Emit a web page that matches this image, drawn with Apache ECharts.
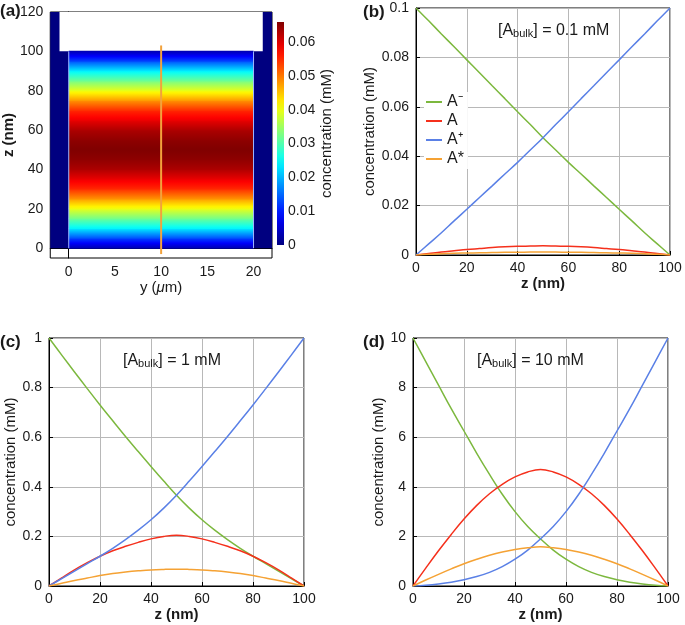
<!DOCTYPE html>
<html>
<head>
<meta charset="UTF-8">
<title>Concentration profiles</title>
<script src="https://cdn.jsdelivr.net/npm/echarts@6/dist/echarts.min.js"></script>
<style>body{margin:0;background:#fff;}</style>
</head>
<body>
<div id="main" style="width:685px;height:625px;"></div>
<script>
// z positions (nm) for the profiles
var zPos = [0, 5, 10, 15, 20, 25, 30, 35, 40, 45, 50, 55, 60, 65, 70, 75, 80, 85, 90, 95, 100];

// (b) [A_bulk] = 0.1 mM
var b_Aminus = [0.1, 0.0948, 0.0895, 0.0843, 0.079, 0.0738, 0.0685, 0.0633, 0.058, 0.0528, 0.0475,
                0.0425, 0.0375, 0.0328, 0.028, 0.0233, 0.0185, 0.0138, 0.009, 0.0045, 0];
var b_A      = [0, 0.0006, 0.0012, 0.0017, 0.0022, 0.0026, 0.003, 0.0033, 0.0035, 0.0036, 0.0037,
                0.0036, 0.0035, 0.0033, 0.003, 0.0026, 0.0022, 0.0017, 0.0012, 0.0006, 0];
var b_Aplus  = [0, 0.0045, 0.009, 0.0138, 0.0185, 0.0233, 0.028, 0.0328, 0.0375, 0.0425, 0.0475,
                0.0528, 0.058, 0.0633, 0.0685, 0.0738, 0.079, 0.0843, 0.0895, 0.0948, 0.1];
var b_Astar  = [0, 0.0003, 0.0005, 0.0007, 0.0008, 0.0009, 0.001, 0.0011, 0.0011, 0.0012, 0.0012,
                0.0012, 0.0011, 0.0011, 0.001, 0.0009, 0.0008, 0.0007, 0.0005, 0.0003, 0];

// (c) [A_bulk] = 1 mM
var c_Aminus = [1, 0.931, 0.863, 0.796, 0.73, 0.666, 0.603, 0.542, 0.482, 0.423, 0.366,
                0.314, 0.267, 0.225, 0.187, 0.152, 0.12, 0.09, 0.06, 0.03, 0];
var c_A      = [0, 0.033, 0.065, 0.094, 0.12, 0.142, 0.16, 0.176, 0.19, 0.2, 0.205,
                0.2, 0.19, 0.176, 0.16, 0.142, 0.12, 0.094, 0.065, 0.033, 0];
var c_Aplus  = [0, 0.03, 0.06, 0.09, 0.12, 0.152, 0.187, 0.225, 0.267, 0.314, 0.366,
                0.423, 0.482, 0.542, 0.603, 0.666, 0.73, 0.796, 0.863, 0.931, 1];
var c_Astar  = [0, 0.011, 0.022, 0.032, 0.042, 0.05, 0.056, 0.061, 0.065, 0.067, 0.068,
                0.067, 0.065, 0.061, 0.056, 0.05, 0.042, 0.032, 0.022, 0.011, 0];

// (d) [A_bulk] = 10 mM
var d_Aminus = [10, 9.05, 8.1, 7.15, 6.25, 5.35, 4.5, 3.7, 3.0, 2.4, 1.9,
                1.45, 1.08, 0.78, 0.55, 0.38, 0.25, 0.15, 0.08, 0.03, 0];
var d_A      = [0, 0.72, 1.42, 2.08, 2.7, 3.25, 3.72, 4.1, 4.4, 4.6, 4.7,
                4.6, 4.4, 4.1, 3.72, 3.25, 2.7, 2.08, 1.42, 0.72, 0];
var d_Aplus  = [0, 0.03, 0.08, 0.15, 0.25, 0.38, 0.55, 0.78, 1.08, 1.45, 1.9,
                2.4, 3.0, 3.7, 4.5, 5.35, 6.25, 7.15, 8.1, 9.05, 10];
var d_Astar  = [0, 0.24, 0.47, 0.69, 0.9, 1.08, 1.24, 1.37, 1.47, 1.54, 1.58,
                1.54, 1.47, 1.37, 1.24, 1.08, 0.9, 0.69, 0.47, 0.24, 0];

// (a) concentration map across the gap (mM), read along z
var heatZ    = [0, 5, 10, 15, 20, 25, 30, 35, 40, 45, 50, 55, 60, 65, 70, 75, 80, 85, 90, 95, 100];
var heatConc = [0.003, 0.013, 0.024, 0.032, 0.040, 0.048, 0.055, 0.059, 0.063, 0.065, 0.066,
                0.065, 0.063, 0.059, 0.055, 0.048, 0.040, 0.032, 0.024, 0.013, 0.003];
var cbarMax = 0.066;
var cellY = [0, 20];        // um
var cellZ = [0, 100];       // nm
var electrodeY = [-1, 21];
var electrodeZ = [100, 120];
var probeY = 10;
var probeZ = [-3, 103];

var seriesNames = ['A⁻', 'A', 'A⁺', 'A*'];
var colors = ['#7cb83e', '#f5301c', '#5a80e6', '#f5a234'];
var FONT = 'Liberation Sans, Arial, sans-serif';

function clamp(v) { return Math.max(0, Math.min(1, v)); }
function jet(t) {
    t = clamp(t);
    var r = clamp(1.5 - Math.abs(4 * t - 3));
    var g = clamp(1.5 - Math.abs(4 * t - 2));
    var b = clamp(1.5 - Math.abs(4 * t - 1));
    return 'rgb(' + Math.round(r * 255) + ',' + Math.round(g * 255) + ',' + Math.round(b * 255) + ')';
}

function pairs(ys) {
    return zPos.map(function (z, i) { return [z, ys[i]]; });
}

var myChart = echarts.init(document.getElementById('main'));

var grids = [
    {left: 50, top: 12, width: 222, height: 246},     // (a)
    {left: 277, top: 22, width: 7, height: 223},      // colorbar
    {left: 416, top: 8, width: 254, height: 247},     // (b)
    {left: 49, top: 338, width: 255, height: 248},    // (c)
    {left: 413, top: 338, width: 255, height: 248}    // (d)
];
grids.forEach(function (g, i) {
    g.show = i !== 1;
    g.borderColor = '#000';
    g.borderWidth = 1;
    g.backgroundColor = 'transparent';
});

var labelStyle = {color: '#1a1a1a', fontSize: 14, fontFamily: FONT};
function lineX(idx) {
    return {
        gridIndex: idx, type: 'value', min: 0, max: 100, interval: 20,
        axisLine: {lineStyle: {color: '#000'}},
        axisTick: {inside: true, length: 4, lineStyle: {color: '#000'}},
        axisLabel: Object.assign({margin: 6}, labelStyle),
        splitLine: {show: true, lineStyle: {color: '#b8b8b8'}},
        name: 'z (nm)', nameLocation: 'middle', nameGap: 21,
        nameTextStyle: {fontSize: 15, fontWeight: 'bold', fontFamily: FONT, color: '#1a1a1a'}
    };
}
function lineY(idx, max, step, gap) {
    return {
        gridIndex: idx, type: 'value', min: 0, max: max, interval: step,
        axisLine: {lineStyle: {color: '#000'}},
        axisTick: {inside: true, length: 4, lineStyle: {color: '#000'}},
        axisLabel: Object.assign({margin: 7}, labelStyle),
        splitLine: {show: true, lineStyle: {color: '#b8b8b8'}},
        name: 'concentration (mM)', nameLocation: 'middle', nameGap: gap,
        nameTextStyle: {fontSize: 15, fontFamily: FONT, color: '#1a1a1a'}
    };
}

var xAxes = [
    {
        gridIndex: 0, type: 'value', min: -2, max: 22, splitNumber: 5,
        axisLine: {lineStyle: {color: '#000'}},
        axisTick: {inside: true, length: 4, lineStyle: {color: '#000'}},
        axisLabel: Object.assign({margin: 7, showMinLabel: false, showMaxLabel: false}, labelStyle),
        splitLine: {show: false},
        name: '{n|y (}{i|μ}{n|m)}', nameLocation: 'middle', nameGap: 18,
        nameTextStyle: {rich: {
            n: {fontSize: 15, fontFamily: FONT, color: '#1a1a1a'},
            i: {fontSize: 15, fontFamily: FONT, fontStyle: 'italic', color: '#1a1a1a'}
        }}
    },
    {gridIndex: 1, type: 'value', min: 0, max: 1, show: false},
    lineX(2), lineX(3), lineX(4)
];

var yAxes = [
    {
        gridIndex: 0, type: 'value', min: -5, max: 120, splitNumber: 6,
        axisLine: {lineStyle: {color: '#000'}},
        axisTick: {inside: true, length: 4, lineStyle: {color: '#000'}},
        axisLabel: Object.assign({margin: 7, showMinLabel: false}, labelStyle),
        splitLine: {show: false},
        name: 'z (nm)', nameLocation: 'middle', nameGap: 23,
        nameTextStyle: {fontSize: 15, fontWeight: 'bold', fontFamily: FONT, color: '#1a1a1a'}
    },
    {
        gridIndex: 1, type: 'value', min: 0, max: cbarMax, interval: 0.01, position: 'right',
        axisLine: {show: false}, axisTick: {show: false},
        axisLabel: Object.assign({margin: 4, showMaxLabel: false}, labelStyle),
        splitLine: {show: false},
        name: 'concentration (mM)', nameLocation: 'middle', nameGap: 29,
        nameTextStyle: {fontSize: 15, fontFamily: FONT, color: '#1a1a1a'}
    },
    lineY(2, 0.1, 0.02, 34),
    lineY(3, 1, 0.2, 21),
    lineY(4, 10, 2, 23)
];

function rectBetween(api, p0, p1) {
    var a = api.coord(p0), b = api.coord(p1);
    return {x: Math.min(a[0], b[0]), y: Math.min(a[1], b[1]),
            width: Math.abs(b[0] - a[0]), height: Math.abs(b[1] - a[1])};
}

var bands = [];
for (var i = 0; i < heatZ.length - 1; i++) {
    bands.push([heatZ[i], heatZ[i + 1], heatConc[i], heatConc[i + 1]]);
}

var series = [
    // dark background of the map and the electrode
    {
        type: 'custom', xAxisIndex: 0, yAxisIndex: 0, silent: true, clip: true,
        data: [[0]],
        renderItem: function (params, api) {
            var bg = rectBetween(api, [-2, cellZ[0]], [22, electrodeZ[1]]);
            var el = rectBetween(api, [electrodeY[0], electrodeZ[0]], [electrodeY[1], electrodeZ[1]]);
            return {type: 'group', children: [
                {type: 'rect', shape: bg, style: {fill: jet(0)}},
                {type: 'rect', shape: el, style: {fill: '#fff'}}
            ]};
        }
    },
    // concentration bands
    {
        type: 'custom', xAxisIndex: 0, yAxisIndex: 0, silent: true, clip: true,
        data: bands,
        renderItem: function (params, api) {
            var z0 = api.value(0), z1 = api.value(1), c0 = api.value(2), c1 = api.value(3);
            var r = rectBetween(api, [cellY[0], z0], [cellY[1], z1]);
            r.y -= 0.5; r.height += 1;
            var stops = [];
            for (var k = 0; k <= 4; k++) {
                var c = c0 + (c1 - c0) * k / 4;
                stops.push({offset: k / 4, color: jet(c / cbarMax)});
            }
            return {type: 'rect', shape: r,
                    style: {fill: new echarts.graphic.LinearGradient(0, 1, 0, 0, stops)}};
        }
    },
    // cell walls and probe line
    {
        type: 'custom', xAxisIndex: 0, yAxisIndex: 0, silent: true, clip: true,
        data: [[0]],
        renderItem: function (params, api) {
            var l0 = api.coord([cellY[0], cellZ[0]]), l1 = api.coord([cellY[0], cellZ[1]]);
            var r0 = api.coord([cellY[1], cellZ[0]]), r1 = api.coord([cellY[1], cellZ[1]]);
            var p0 = api.coord([probeY, probeZ[0]]), p1 = api.coord([probeY, probeZ[1]]);
            var wall = {stroke: '#9db6ff', lineWidth: 1};
            return {type: 'group', children: [
                {type: 'line', shape: {x1: l0[0], y1: l0[1], x2: l1[0], y2: l1[1]}, style: wall},
                {type: 'line', shape: {x1: r0[0], y1: r0[1], x2: r1[0], y2: r1[1]}, style: wall},
                {type: 'line', shape: {x1: p0[0], y1: p0[1], x2: p1[0], y2: p1[1]},
                 style: {stroke: '#f2a23c', lineWidth: 2}}
            ]};
        }
    },
    // colorbar
    {
        type: 'custom', xAxisIndex: 1, yAxisIndex: 1, silent: true,
        data: [[0]],
        renderItem: function (params, api) {
            var r = rectBetween(api, [0, 0], [1, cbarMax]);
            var stops = [];
            for (var k = 0; k <= 20; k++) stops.push({offset: k / 20, color: jet(k / 20)});
            return {type: 'rect', shape: r,
                    style: {fill: new echarts.graphic.LinearGradient(0, 1, 0, 0, stops)}};
        }
    }
];

var panelData = [
    [2, [b_Aminus, b_A, b_Aplus, b_Astar]],
    [3, [c_Aminus, c_A, c_Aplus, c_Astar]],
    [4, [d_Aminus, d_A, d_Aplus, d_Astar]]
];
panelData.forEach(function (p) {
    p[1].forEach(function (ys, k) {
        series.push({
            name: seriesNames[k], type: 'line', xAxisIndex: p[0], yAxisIndex: p[0],
            data: pairs(ys), smooth: 0.4, showSymbol: false, silent: true,
            lineStyle: {color: colors[k], width: 1.5}, itemStyle: {color: colors[k]}
        });
    });
});

function bulkLabel(txt, left, top) {
    return {
        type: 'text', left: left, top: top, z: 10,
        style: {
            text: '{n|[A}{s|bulk}{n|] = ' + txt + '}',
            rich: {
                n: {fontSize: 16, fontFamily: FONT, fill: '#1a1a1a'},
                s: {fontSize: 11, fontFamily: FONT, fill: '#1a1a1a', verticalAlign: 'bottom'}
            }
        }
    };
}
function panelLabel(txt, left, top) {
    return {type: 'text', left: left, top: top, z: 10,
            style: {text: txt, fontSize: 17, fontWeight: 'bold', fontFamily: FONT, fill: '#1a1a1a'}};
}

var option = {
    animation: false,
    grid: grids,
    xAxis: xAxes,
    yAxis: yAxes,
    legend: {
        data: seriesNames, orient: 'vertical', left: 424, top: 92,
        icon: 'rect', itemWidth: 16, itemHeight: 2, itemGap: 3,
        backgroundColor: '#fff', padding: [2, 4, 2, 2],
        textStyle: {fontSize: 16, fontFamily: FONT, color: '#1a1a1a'}
    },
    graphic: [
        panelLabel('(a)', 0, 3),
        panelLabel('(b)', 363, 4),
        panelLabel('(c)', 0, 334),
        panelLabel('(d)', 363, 334),
        bulkLabel('0.1 mM', 498, 23),
        bulkLabel('1 mM', 123, 353),
        bulkLabel('10 mM', 477, 353)
    ],
    series: series
};

myChart.setOption(option);
</script>
</body>
</html>
